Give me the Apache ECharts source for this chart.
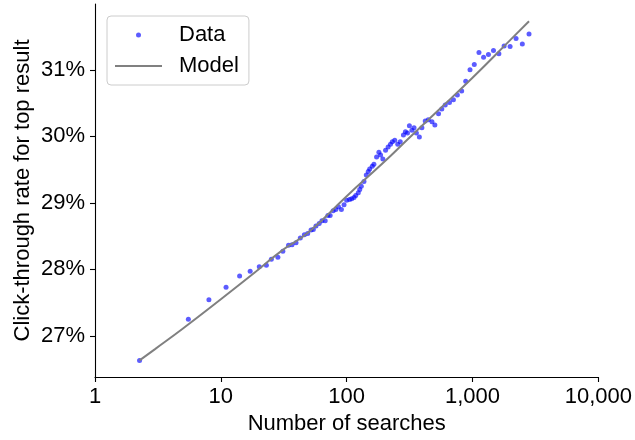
<!DOCTYPE html>
<html>
<head>
<meta charset="utf-8">
<script src="https://cdn.jsdelivr.net/npm/echarts@6/dist/echarts.min.js"></script>
<style>
  html, body { margin: 0; padding: 0; background: #fff; }
  #chart { width: 635px; height: 440px; }
</style>
</head>
<body>
<div id="chart"></div>
<script>
// observed points: number of searches vs click-through rate (%)
var dataX = [2.26, 5.52, 8.04, 11.0, 14.1, 17.1, 20.2, 23.0, 25.2, 28.4,
  31.1, 34.5, 36.8, 39.6, 42.8, 46.1, 49.0, 52.1, 54.3, 57.0,
  60.5, 63.6, 67.5, 70.9, 73.9, 78.1, 82.0, 86.0, 90.8, 95.3,
  100, 105.4, 109.7, 114.4, 118.0, 123.7, 127, 130.7, 137.2, 143.2,
  148.4, 152.3, 159.7, 164.6, 172.8, 180.3, 186, 193.9, 203.7, 213.5,
  222.9, 230.5, 241, 254.7, 266.6, 282.5, 293, 304, 315, 330,
  343, 358, 378, 396, 421, 445, 476, 502, 537, 570,
  607, 656, 705, 758, 820, 883, 955, 1033, 1125, 1224,
  1338, 1468, 1620, 1783, 1989, 2218, 2488, 2812];
var dataY = [26.63, 27.25, 27.54, 27.73, 27.90, 27.97, 28.04, 28.06, 28.15, 28.18,
  28.27, 28.36, 28.37, 28.40, 28.47, 28.52, 28.54, 28.59, 28.60, 28.65,
  28.69, 28.73, 28.73, 28.81, 28.81, 28.88, 28.90, 28.94, 28.90, 28.97,
  29.04, 29.05, 29.06, 29.08, 29.11, 29.15, 29.20, 29.25, 29.32, 29.42,
  29.47, 29.51, 29.55, 29.58, 29.69, 29.76, 29.72, 29.66, 29.79, 29.84,
  29.88, 29.92, 29.94, 29.88, 29.92, 30.02, 30.07, 30.05, 30.16, 30.09,
  30.13, 30.05, 29.99, 30.13, 30.23, 30.25, 30.22, 30.17, 30.34, 30.41,
  30.47, 30.51, 30.55, 30.62, 30.68, 30.83, 31.00, 31.08, 31.26, 31.19,
  31.23, 31.29, 31.24, 31.36, 31.35, 31.47, 31.39, 31.54];

// fitted model curve
var modelX = [2.26, 3, 5, 10, 20, 30, 50, 100, 200, 300, 500, 1000, 2000, 2812];
var modelY = [26.63, 26.80, 27.11, 27.55, 28.00, 28.27, 28.56, 29.10, 29.62, 29.94, 30.34, 30.88, 31.45, 31.73];

var yTicks = [27, 28, 29, 30, 31];
var xTickLabels = ['1', '10', '100', '1,000', '10,000'];

var font = 'Liberation Sans, Arial, sans-serif';

var chart = echarts.init(document.getElementById('chart'), null, { renderer: 'canvas' });

var option = {
  backgroundColor: '#ffffff',
  animation: false,
  textStyle: { fontFamily: font, color: '#000' },
  grid: { left: 95, right: 34, top: 4, bottom: 58, containLabel: false },
  legend: {
    left: 107,
    top: 16,
    orient: 'vertical',
    itemWidth: 47,
    itemHeight: 5,
    itemGap: 9,
    padding: [8, 10, 8, 8],
    backgroundColor: 'rgba(255,255,255,0.8)',
    borderColor: '#cccccc',
    borderWidth: 1,
    borderRadius: 4,
    textStyle: { fontSize: 22, color: '#000', fontFamily: font, padding: [0, 0, 0, 12] },
    data: [
      { name: 'Data', icon: 'circle' },
      { name: 'Model', icon: 'path://M0,0 L47,0 L47,2 L0,2 Z' }
    ]
  },
  xAxis: {
    type: 'log',
    logBase: 10,
    min: 1,
    max: 10000,
    name: 'Number of searches',
    nameLocation: 'middle',
    nameGap: 36,
    nameTextStyle: { fontSize: 22, color: '#000', fontFamily: font },
    axisLine: { lineStyle: { color: '#000', width: 1.1 } },
    axisTick: { inside: false, length: 5, lineStyle: { color: '#000', width: 1.1 } },
    minorTick: { show: false },
    axisLabel: {
      fontSize: 22, color: '#000', margin: 9, fontFamily: font,
      formatter: function (v) { return xTickLabels[Math.round(Math.log10(v))]; }
    },
    splitLine: { show: false }
  },
  yAxis: {
    type: 'value',
    min: 26.38,
    max: 31.99,
    name: 'Click-through rate for top result',
    nameLocation: 'middle',
    nameGap: 61,
    nameMoveOverlap: false,
    nameTextStyle: { fontSize: 22, color: '#000', fontFamily: font },
    axisLine: { show: true, lineStyle: { color: '#000', width: 1.1 } },
    axisTick: { show: true, length: 5, customValues: yTicks, lineStyle: { color: '#000', width: 1.1 } },
    axisLabel: {
      fontSize: 22, color: '#000', margin: 10, fontFamily: font,
      customValues: yTicks,
      formatter: function (v) { return Math.round(v) + '%'; }
    },
    splitLine: { show: false }
  },
  series: [
    {
      name: 'Data',
      type: 'scatter',
      symbol: 'circle',
      symbolSize: 5,
      itemStyle: { color: 'rgba(0,0,255,0.8)' },
      data: dataX.map(function (x, i) { return [x, dataY[i]]; })
    },
    {
      name: 'Model',
      type: 'line',
      symbol: 'none',
      smooth: true,
      lineStyle: { color: '#808080', width: 2 },
      itemStyle: { color: '#808080' },
      data: modelX.map(function (x, i) { return [x, modelY[i]]; })
    }
  ]
};

chart.setOption(option);
</script>
</body>
</html>
